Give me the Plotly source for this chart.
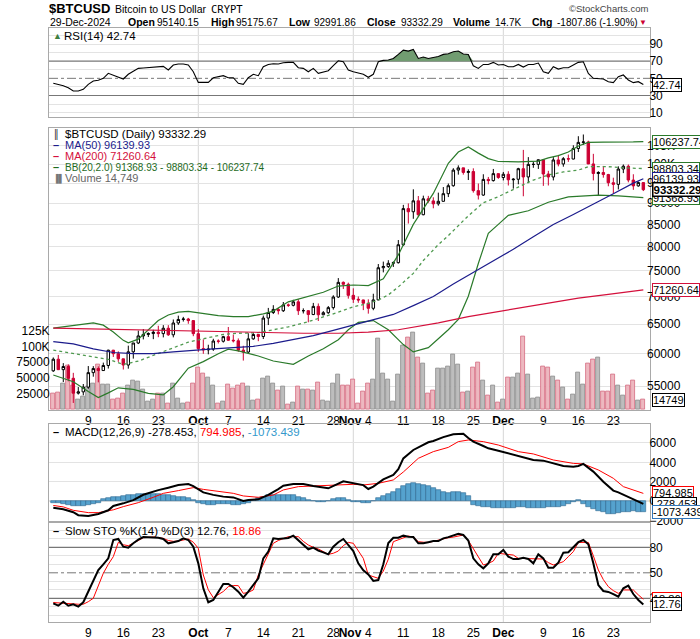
import math
import pandas as pd
import plotly.graph_objects as go

# ---------------- data ----------------
start_date = "2024-09-02"
n_days = 119
dates = pd.date_range(start_date, periods=n_days, freq="D")

opens = [57300, 59120, 57480, 57970, 56160, 53950, 54140, 54840, 57020, 57650,
         57340, 58130, 60570, 60000, 59180, 58200, 60310, 61760, 62950, 63200,
         63350, 63580, 63340, 64260, 63140, 65180, 65800, 65880, 65600, 63330,
         60830, 60630, 60750, 62090, 62050, 62820, 62220, 62130, 60580, 60270,
         62450, 63190, 62850, 66050, 67040, 67610, 67370, 68430, 68360, 69000,
         67370, 67380, 66680, 68160, 66640, 67010, 67930, 69900, 72720, 72340,
         70220, 69480, 69350, 68740, 67810, 69360, 75640, 75900, 76550, 76680,
         80470, 88700, 87950, 90580, 87250, 91070, 90560, 89850, 90460, 92340,
         94340, 98400, 98990, 97780, 98010, 93100, 91990, 95960, 95650, 97460,
         96450, 97300, 95860, 96000, 98770, 96600, 99920, 99920, 101170, 97370,
         96590, 101120, 100040, 101460, 101370, 104300, 106030, 106140, 100040, 97490,
         97760, 97220, 95100, 94690, 98680, 99430, 95790, 94300, 95140.15]
highs = [59400, 59800, 58500, 58300, 56990, 54850, 55300, 58040, 58030, 57990,
         58580, 60650, 60630, 60390, 59210, 61320, 61780, 63850, 64120, 63560,
         64000, 64700, 64800, 64800, 65800, 66480, 66260, 66080, 65700, 64130,
         62370, 61470, 62470, 62370, 62970, 64480, 63180, 62520, 61300, 63400,
         63480, 63280, 66500, 67880, 68380, 67900, 68970, 68690, 69380, 69500,
         67800, 67450, 68800, 68700, 67300, 68220, 70230, 73560, 72900, 72660,
         71560, 70000, 69400, 69470, 70520, 76400, 76900, 77200, 76930, 81500,
         89600, 89950, 93430, 91760, 91850, 91800, 91440, 92600, 94000, 94900,
         98900, 99660, 99000, 98600, 98870, 94900, 97300, 96600, 98700, 97500,
         97900, 98100, 96300, 99000, 103900, 101900, 100600, 101300, 101200, 98200,
         101900, 102500, 101900, 102600, 105200, 107800, 108300, 106500, 102800, 98100,
         99500, 97400, 96400, 99400, 99900, 99900, 97300, 95400, 95175.67]
lows = [57130, 57420, 55600, 55700, 52550, 53750, 53650, 54590, 56400, 55550,
        57330, 57650, 59480, 58700, 57500, 57630, 59210, 61580, 62360, 62760,
        62400, 62730, 62700, 62950, 62700, 64850, 65430, 65040, 62900, 60300,
        59990, 59900, 60460, 61680, 61830, 62130, 61850, 60300, 58900, 60050,
        62300, 62060, 62420, 64820, 66770, 66700, 67140, 68060, 68160, 66600,
        66870, 65300, 66570, 65530, 66550, 66800, 67570, 69730, 71430, 69600,
        68800, 68820, 67480, 66840, 67460, 69300, 74700, 75600, 75800, 76500,
        80220, 85200, 86300, 86700, 87120, 90100, 88770, 89400, 90400, 91500,
        94100, 97200, 97200, 95800, 92600, 90900, 91800, 94700, 95400, 96100,
        95700, 94400, 93600, 94700, 91700, 95000, 99000, 98700, 94300, 94400,
        95700, 99400, 99300, 100600, 101300, 103300, 105300, 100000, 95700, 91800,
        96400, 94200, 92400, 93400, 97600, 95200, 93300, 94100, 92991.86]
closes = [59120, 57480, 57970, 56160, 53950, 54140, 54840, 57020, 57650, 57340,
          58130, 60570, 60000, 59180, 58200, 60310, 61760, 62950, 63200, 63350,
          63580, 63340, 64260, 63140, 65180, 65800, 65880, 65600, 63330, 60830,
          60630, 60750, 62090, 62050, 62820, 62220, 62130, 60580, 60270, 62450,
          63190, 62850, 66050, 67040, 67610, 67370, 68430, 68360, 69000, 67370,
          67380, 66680, 68160, 66640, 67010, 67930, 69900, 72720, 72340, 70220,
          69480, 69350, 68740, 67810, 69360, 75640, 75900, 76550, 76680, 80470,
          88700, 87950, 90580, 87250, 91070, 90560, 89850, 90460, 92340, 94340,
          98400, 98990, 97780, 98010, 93100, 91990, 95960, 95650, 97460, 96450,
          97300, 95860, 96000, 98770, 96600, 99920, 99920, 101170, 97370, 96590,
          101120, 100040, 101460, 101370, 104300, 106030, 106140, 100040, 97490, 97760,
          97220, 95100, 94690, 98680, 99430, 95790, 94300, 95140.15, 93332.29]
volume_k = [24, 26, 41, 68.7, 38.3, 14.4, 19.7, 35.7, 41, 70.3,
            39.4, 39.9, 14.4, 17, 24, 38.3, 46.3, 43.7, 31.4, 11.7,
            14.4, 25, 24, 9.1, 41, 17, 9, 10.6, 41, 66,
            57, 50, 38, 9, 12, 39, 33, 37, 40, 36,
            14, 15, 49, 52, 40, 29, 36, 6.4, 10.6, 36,
            31, 31, 29, 42.6, 12.8, 12, 40, 55, 37, 38,
            47, 9, 28, 41, 47, 113, 57, 47, 12, 55,
            102, 114, 122, 82, 72, 25, 30.3, 63.9, 63.9, 67.6,
            87.3, 71.3, 26.6, 27.7, 66.5, 74.5, 46.3, 21.3, 38.3, 10.1,
            15.4, 50.6, 50.6, 57, 115.5, 55.4, 16.5, 17.6, 67.6, 66.5,
            51.6, 46.3, 34.6, 15.4, 23.4, 58.6, 39.4, 72.9, 78.3, 82.5,
            27.7, 27.7, 55.4, 38.3, 20.8, 37.3, 46.3, 12.8, 14.749]

ma50_days = [0, 4, 8, 12, 16, 20, 24, 28, 32, 36, 40, 44, 48, 52, 56, 60, 64, 68,
             72, 76, 80, 84, 88, 92, 96, 100, 104, 108, 112, 116, 118]
ma50_vals = [62000, 61600, 60800, 60200, 60000, 60000, 60300, 60600, 60800, 61000,
             61200, 61700, 62300, 63000, 63900, 64800, 65700, 66700, 68300, 70000,
             72400, 74700, 77000, 79500, 82200, 85000, 87300, 89700, 92300, 95000, 96139.93]
ma200_days = [0, 10, 20, 30, 40, 50, 57, 63, 69, 77, 83, 89, 97, 105, 111, 118]
ma200_vals = [64300, 64100, 63900, 63800, 63600, 63400, 63400, 63600, 64000, 65200,
              66300, 67200, 68400, 69700, 70400, 71260.64]
bbu_days = [0, 4, 8, 10, 12, 14, 15, 17, 19, 21, 23, 25, 27, 30, 33, 36, 39, 42, 44,
            47, 51, 54, 57, 60, 63, 64, 66, 69, 72, 76, 79, 81, 83, 85, 87, 89, 93,
            97, 99, 101, 103, 105, 107, 110, 114, 116, 118]
bbu_vals = [64300, 64700, 65200, 64800, 63600, 62200, 61800, 62400, 64000, 65600,
            66600, 67100, 67250, 66900, 66500, 66300, 66300, 66800, 67300, 69000,
            70000, 70800, 72000, 72200, 72100, 72500, 73400, 78300, 85000, 92400,
            100200, 103300, 104700, 103000, 101500, 100700, 100600, 100800, 101700,
            102300, 103300, 105000, 106000, 106100, 106050, 106150, 106237.74]
bbm_days = [0, 4, 8, 11, 14, 17, 20, 24, 27, 31, 34, 37, 41, 44, 47, 51, 54, 57, 60,
            63, 65, 67, 69, 72, 74, 77, 79, 81, 83, 86, 89, 93, 96, 99, 102, 105, 107,
            111, 114, 118]
bbm_vals = [60570, 60080, 59500, 59100, 58300, 58820, 59700, 60900, 61900, 62650,
            63200, 63400, 63500, 64000, 64500, 65420, 66200, 67100, 68100, 68700,
            69330, 70300, 71830, 74500, 77120, 80500, 82480, 84800, 87000, 90100,
            91600, 94000, 95800, 97100, 97900, 98400, 99300, 99300, 99000, 98803.34]
bbl_days = [0, 4, 7, 9, 11, 13, 16, 19, 22, 24, 27, 30, 33, 35, 37, 41, 44, 48, 51,
            54, 57, 59, 61, 64, 67, 70, 72, 75, 77, 79, 81, 83, 85, 87, 89, 91, 95,
            99, 103, 105, 109, 113, 116, 118]
bbl_vals = [56650, 55640, 54200, 53330, 54000, 54740, 54500, 53930, 53700, 54900,
            57700, 58740, 60000, 60730, 60460, 59640, 58830, 58300, 59640, 60800,
            62300, 64000, 65300, 65600, 64000, 61500, 60300, 61000, 62470, 64000,
            65830, 70050, 76500, 83000, 85000, 87100, 88200, 90230, 91560, 91700,
            92000, 91800, 91600, 91368.93]

rsi = [44.2, 43.0, 41.4, 39.0, 35.2, 35.2, 37.2, 43.0, 46.9, 47.7,
       50.0, 55.8, 53.9, 51.9, 49.2, 54.7, 57.7, 61.6, 62.0, 62.4,
       62.8, 62.8, 63.9, 59.7, 65.5, 66.7, 66.7, 65.5, 57.7, 45.3,
       45.3, 45.3, 50.7, 51.9, 53.1, 50.7, 50.7, 44.2, 43.0, 50.7,
       54.7, 53.1, 63.5, 66.2, 67.0, 66.7, 68.2, 68.6, 68.6, 62.4,
       61.6, 57.7, 61.6, 55.8, 57.0, 58.9, 64.7, 70.5, 69.3, 59.7,
       57.7, 56.5, 54.7, 51.2, 54.7, 69.3, 70.9, 71.3, 73.2, 77.9,
       82.9, 81.8, 83.7, 73.2, 74.8, 73.2, 74.0, 75.5, 77.9, 78.6,
       81.0, 81.8, 78.3, 77.9, 64.7, 61.6, 66.2, 66.2, 68.6, 65.5,
       66.2, 63.5, 63.5, 66.2, 63.1, 66.2, 66.2, 67.8, 57.7, 55.8,
       63.5, 60.8, 62.4, 62.4, 65.5, 68.6, 69.3, 55.8, 50.0, 50.0,
       49.2, 46.1, 45.0, 51.9, 53.9, 48.1, 45.0, 46.1, 42.74]

macd_days = [0, 2, 4, 5, 7, 9, 11, 12, 14, 16, 18, 20, 21, 23, 25, 27, 28, 30, 32, 34,
             36, 38, 39, 41, 43, 45, 46, 48, 50, 52, 54, 55, 58, 60, 62, 63, 64, 66,
             68, 69, 70, 72, 74, 75, 76, 78, 80, 82, 83, 84, 86, 87, 89, 91, 93, 95,
             96, 98, 100, 102, 104, 105, 106, 108, 110, 112, 113, 115, 117, 118]
macd_vals = [-680, -850, -1150, -1450, -1540, -1330, -950, -500, -230, 100, 650, 980,
             1130, 1380, 1650, 1760, 1550, 900, 640, 460, 380, 20, 110, 180, 650, 1230,
             1590, 1760, 1760, 1550, 1380, 1320, 2040, 1830, 1650, 1250, 1490, 2240,
             2700, 3280, 4400, 5270, 5780, 6060, 6200, 6600, 6900, 6950, 6500, 6130,
             5680, 5440, 5200, 4930, 4650, 4410, 4240, 4170, 3890, 3620, 3550, 3620,
             3830, 3040, 2000, 1080, 900, 460, 10, -278.453]
signal_days = [0, 2, 4, 7, 9, 12, 14, 17, 20, 22, 25, 28, 30, 33, 36, 38, 41, 44, 46,
               49, 52, 54, 57, 60, 62, 65, 68, 70, 73, 76, 79, 81, 83, 86, 89, 93, 96,
               100, 104, 106, 109, 112, 114, 118]
signal_vals = [-450, -600, -950, -1190, -1190, -900, -570, -160, 390, 800, 1080, 1390,
               1210, 970, 800, 530, 390, 630, 1150, 1490, 1560, 1560, 1660, 1730, 1660,
               1830, 2180, 3000, 4410, 5100, 5540, 6130, 6300, 6130, 5780, 5100, 4860,
               4240, 3890, 3830, 3210, 2350, 1490, 794.985]
macd_hist = [-200, -230, -320, -420, -520, -540, -500, -420, -300, -150,
             180, 300, 400, 420, 530, 600, 650, 720, 740, 730,
             720, 700, 650, 600, 530, 460, 390, 280, 100, -150,
             -300, -420, -380, -300, -300, -350, -400, -380, -300, -170,
             100, 300, 450, 600, 640, 630, 630, 620, 600, 450,
             300, 150, 0, -70, -70, 0, 250, 340, 320, 150,
             -50, -100, -160, -240, 60, 350, 560, 720, 950, 1250,
             1600, 1800, 1820, 1750, 1680, 1550, 1350, 1130, 970, 880,
             900, 920, 800, 520, -400, -480, -560, -600, -680, -740,
             -760, -720, -680, -640, -640, -700, -760, -730, -680, -640,
             -600, -560, -500, -300, -70, 100, -300, -600, -850, -1000,
             -1150, -1280, -1330, -1250, -1150, -1100, -1050, -1080, -1073.439]

sto_k = [14.1, 11.3, 16.0, 11.3, 12.9, 10.2, 15.3, 27.8, 41.5, 53.3,
         60.0, 67.0, 88.6, 89.8, 80.7, 79.6, 84.7, 89.0, 92.1, 92.1,
         92.1, 91.3, 89.8, 84.7, 86.0, 87.4, 90.5, 88.6, 80.7, 61.1,
         31.7, 15.3, 18.0, 27.8, 36.8, 36.8, 33.0, 27.8, 20.7, 27.8,
         36.0, 43.5, 67.0, 74.9, 90.5, 89.8, 90.5, 91.0, 93.7, 88.6,
         83.0, 77.6, 79.6, 76.0, 74.1, 71.7, 80.7, 86.0, 89.8, 82.0,
         75.6, 61.1, 53.0, 48.0, 40.4, 41.5, 60.0, 85.0, 91.3, 91.3,
         93.7, 92.5, 92.1, 84.7, 84.7, 86.0, 87.4, 87.4, 90.5, 92.0,
         94.0, 96.0, 94.5, 88.0, 67.0, 60.0, 55.3, 61.1, 71.7, 71.7,
         76.8, 69.0, 66.2, 66.2, 67.8, 66.2, 61.1, 71.7, 67.0, 56.0,
         56.0, 62.0, 73.7, 74.1, 80.0, 86.0, 88.6, 83.5, 61.1, 35.6,
         28.6, 27.5, 25.0, 21.9, 31.7, 34.9, 25.0, 18.0, 12.76]
sto_d = [15.0, 14.5, 14.0, 13.5, 13.0, 13.0, 13.0, 16.0, 20.0, 35.6,
         49.4, 60.0, 69.0, 85.8, 83.0, 81.9, 84.7, 88.0, 91.3, 92.0,
         92.1, 91.5, 90.5, 88.0, 87.0, 87.4, 88.5, 89.8, 86.0, 78.8,
         47.4, 30.0, 20.7, 23.9, 28.0, 33.7, 35.0, 34.9, 25.8, 27.0,
         29.8, 47.4, 60.0, 72.0, 84.7, 88.0, 89.8, 92.5, 92.5, 92.5,
         87.0, 82.7, 80.0, 78.0, 75.0, 71.7, 73.0, 75.6, 82.0, 85.8,
         84.7, 76.0, 67.0, 47.4, 45.0, 43.5, 52.0, 66.0, 86.6, 89.0,
         91.3, 93.3, 92.0, 86.6, 86.0, 85.8, 87.0, 88.6, 90.0, 91.3,
         92.0, 93.5, 94.5, 88.0, 78.8, 68.0, 59.2, 61.0, 63.9, 72.9,
         72.0, 71.5, 70.9, 67.0, 67.0, 67.0, 67.0, 66.5, 66.2, 62.0,
         59.2, 61.0, 63.1, 69.0, 74.9, 85.8, 86.0, 85.8, 70.0, 53.3,
         42.0, 33.7, 29.0, 25.8, 29.8, 30.0, 29.8, 24.0, 18.86]

price_ticks = [55000, 60000, 65000, 70000, 75000, 80000, 85000, 90000, 95000, 100000, 105000]
price_labels = ["55000", "60000", "65000", "70000", "75000", "80000", "85000", "90000", "95000", "100K", "105K"]
vol_ticks = [25000, 50000, 75000, 100000, 125000]
vol_labels = ["25000", "50000", "75000", "100K", "125K"]
date_tick_vals = ["2024-09-09", "2024-09-16", "2024-09-23", "2024-10-01", "2024-10-07",
                  "2024-10-14", "2024-10-21", "2024-10-28", "2024-11-01", "2024-11-04",
                  "2024-11-11", "2024-11-18", "2024-11-25", "2024-12-01", "2024-12-09",
                  "2024-12-16", "2024-12-23"]
date_tick_text = ["9", "16", "23", "<b>Oct</b>", "7", "14", "21", "28", "<b>Nov</b>\u00a0\u00a0", "4",
                  "11", "18", "25", "<b>Dec</b>", "9", "16", "23"]
month_lines = ["2024-10-01", "2024-11-01", "2024-12-01"]

# ---------------- geometry helpers ----------------
W, H = 700, 639
L, R = 49, 650


def xp(px):
    return (px - L) / (R - L)


def yp(py):
    return 1 - py / H


def dom(top, bottom):
    return [yp(bottom), yp(top)]


RED = "#CC0033"
NAVY = "#1C1C8C"
MA200C = "#D4103C"
GREEN = "#2A7A2A"
GRID = "#E3E3E3"
BORDER = "#A9A9A9"
FONT = "Liberation Sans, Arial, sans-serif"

x0 = pd.Timestamp(start_date) - pd.Timedelta(hours=20.6)
x1 = dates[-1] + pd.Timedelta(hours=32)


def pick(days, vals):
    return [dates[d] for d in days], vals


fig = go.Figure()

# up/down versus the previous close (first bar shows red in the picture)
candle_up = [True] + [closes[i] >= closes[i - 1] for i in range(1, n_days)]
vol_up = [False] + candle_up[1:]

# ---- volume (base axis of main panel) ----
vol = [v * 1000 for v in volume_k]
fig.add_trace(go.Bar(
    x=dates, y=vol, xaxis="x", yaxis="y",
    marker=dict(color=["#BDBDBD" if u else "#EDB8C0" for u in vol_up],
                line=dict(color=["#8C8C8C" if u else "#D46A80" for u in vol_up], width=0.8)),
    width=0.82 * 86400000, hoverinfo="skip"))

# ---- price lines ----
for days, vals, col, dash, wd in [
    (bbu_days, bbu_vals, GREEN, "solid", 1.2),
    (bbl_days, bbl_vals, GREEN, "solid", 1.2),
    (bbm_days, bbm_vals, "#4F9A4F", "dot", 1.3),
    (ma200_days, ma200_vals, MA200C, "solid", 1.2),
    (ma50_days, ma50_vals, NAVY, "solid", 1.2),
]:
    xx, yy = pick(days, vals)
    fig.add_trace(go.Scatter(x=xx, y=yy, xaxis="x", yaxis="y2", mode="lines",
                             line=dict(color=col, width=wd, dash=dash), hoverinfo="skip"))

# candles: black when up on the previous close, red when down; hollow when close > open
for flag, col in [(True, "black"), (False, RED)]:
    idx = [i for i in range(n_days) if candle_up[i] == flag]
    fig.add_trace(go.Candlestick(
        x=[dates[i] for i in idx], open=[opens[i] for i in idx], high=[highs[i] for i in idx],
        low=[lows[i] for i in idx], close=[closes[i] for i in idx], xaxis="x", yaxis="y2",
        increasing=dict(line=dict(color=col, width=1), fillcolor="white"),
        decreasing=dict(line=dict(color=col, width=1), fillcolor=col),
        whiskerwidth=0, hoverinfo="skip"))

# ---- RSI ----
fig.add_trace(go.Scatter(x=dates, y=[70] * n_days, xaxis="x2", yaxis="y3", mode="lines",
                         line=dict(width=0), hoverinfo="skip"))
fig.add_trace(go.Scatter(x=dates, y=[max(v, 70) for v in rsi], xaxis="x2", yaxis="y3",
                         mode="lines", line=dict(width=0), fill="tonexty",
                         fillcolor="#719C71", hoverinfo="skip"))
fig.add_trace(go.Scatter(x=dates, y=rsi, xaxis="x2", yaxis="y3", mode="lines",
                         line=dict(color="black", width=1.1), hoverinfo="skip"))

# ---- MACD ----
fig.add_trace(go.Bar(x=dates, y=macd_hist, xaxis="x3", yaxis="y4",
                     marker=dict(color="#55A2CE", line=dict(color="#2B668F", width=0.6)),
                     width=0.9 * 86400000, hoverinfo="skip"))
xx, yy = pick(signal_days, signal_vals)
fig.add_trace(go.Scatter(x=xx, y=yy, xaxis="x3", yaxis="y4", mode="lines",
                         line=dict(color="#FF0000", width=1), hoverinfo="skip"))
xx, yy = pick(macd_days, macd_vals)
fig.add_trace(go.Scatter(x=xx, y=yy, xaxis="x3", yaxis="y4", mode="lines",
                         line=dict(color="black", width=2), hoverinfo="skip"))

# ---- STO ----
fig.add_trace(go.Scatter(x=dates, y=sto_d, xaxis="x4", yaxis="y5", mode="lines",
                         line=dict(color="#FF0000", width=1), hoverinfo="skip"))
fig.add_trace(go.Scatter(x=dates, y=sto_k, xaxis="x4", yaxis="y5", mode="lines",
                         line=dict(color="black", width=2), hoverinfo="skip"))

# ---------------- axes ----------------
RSI_D = dom(28, 117)
MAIN_D = dom(127.5, 410)
MACD_D = dom(424, 521)
STO_D = dom(523, 622)

TICKF = dict(family=FONT, size=12, color="black")
xcommon = dict(type="date", range=[x0, x1], showgrid=False, zeroline=False,
               showline=True, mirror=True, linecolor=BORDER, linewidth=1,
               tickvals=date_tick_vals, ticktext=date_tick_text, ticks="", tickangle=0,
               tickfont=TICKF, fixedrange=True)
ycommon = dict(zeroline=False, ticks="", tickfont=TICKF, ticklabelstandoff=-4)

layout = dict(
    width=W, height=H, margin=dict(l=L, r=W - R, t=0, b=0, autoexpand=False),
    paper_bgcolor="white", plot_bgcolor="white", showlegend=False,
    barmode="overlay", bargap=0,
    xaxis=dict(xcommon, domain=[0, 1], anchor="y", rangeslider=dict(visible=False)),
    xaxis2=dict(xcommon, domain=[0, 1], anchor="y3", showticklabels=False),
    xaxis3=dict(xcommon, domain=[0, 1], anchor="y4", showticklabels=False),
    xaxis4=dict(xcommon, domain=[0, 1], anchor="y5"),
    yaxis=dict(ycommon, domain=MAIN_D, anchor="x", side="left", range=[-1600, 449600],
               tickvals=vol_ticks, ticktext=vol_labels, showgrid=False,
               showline=True, mirror=True, linecolor=BORDER),
    yaxis2=dict(ycommon, overlaying="y", anchor="x", side="right", type="log",
                range=[math.log10(51560), math.log10(110360)],
                tickvals=price_ticks, ticktext=price_labels, showgrid=True, gridcolor=GRID),
    yaxis3=dict(ycommon, domain=RSI_D, anchor="x2", side="right", range=[4.9, 108.7],
                tickvals=[10, 30, 50, 70, 90], showgrid=False,
                showline=True, mirror=True, linecolor=BORDER,
                minor=dict(tickvals=[10, 20, 40, 60, 80, 90, 100], showgrid=True, gridcolor=GRID)),
    yaxis4=dict(ycommon, domain=MACD_D, anchor="x3", side="right", range=[-2052, 7948],
                tickvals=[-2000, 0, 2000, 4000, 6000], showgrid=True, gridcolor=GRID,
                showline=True, mirror=True, linecolor=BORDER),
    yaxis5=dict(ycommon, domain=STO_D, anchor="x4", side="right", range=[-7.9, 108.6],
                tickvals=[20, 50, 80], showgrid=False,
                showline=True, mirror=True, linecolor=BORDER,
                minor=dict(tickvals=[0, 10, 30, 40, 60, 70, 90, 100], showgrid=True, gridcolor=GRID)),
)
fig.update_layout(**layout)

# ---------------- shapes ----------------
shapes = []
for ref in [("x", "y domain"), ("x2", "y3 domain"), ("x3", "y4 domain"), ("x4", "y5 domain")]:
    for m in month_lines:
        shapes.append(dict(type="line", xref=ref[0], yref=ref[1], x0=m, x1=m, y0=0, y1=1,
                           line=dict(color="#D6D6D6", width=1), layer="below"))
for yref, lv in [("y3", 70), ("y3", 30), ("y5", 80), ("y5", 20)]:
    shapes.append(dict(type="line", xref="paper", yref=yref, x0=0, x1=1, y0=lv, y1=lv,
                       line=dict(color="#777777", width=1.2), layer="below"))
for yref in ["y3", "y5"]:
    shapes.append(dict(type="line", xref="paper", yref=yref, x0=0, x1=1, y0=50, y1=50,
                       line=dict(color="#777777", width=1, dash="dashdot"), layer="below"))
shapes.append(dict(type="line", xref="paper", yref="y4", x0=0, x1=1, y0=0, y1=0,
                   line=dict(color="#BBBBBB", width=1), layer="below"))
fig.update_layout(shapes=shapes)

# ---------------- annotations ----------------
ann = []


def text(px, py, s, size=11, color="black", family=FONT, anchor="left"):
    ann.append(dict(xref="paper", yref="paper", x=xp(px), y=yp(py), text=s, showarrow=False,
                    xanchor=anchor, yanchor="middle",
                    font=dict(family=family, size=size, color=color)))


def tag(yref, yval, s, color, bold=False):
    ann.append(dict(xref="paper", yref=yref, x=xp(652), y=yval,
                    text=("<b>%s</b>" % s) if bold else s, showarrow=False,
                    xanchor="left", yanchor="middle", bgcolor="white", bordercolor=color,
                    borderwidth=1.5 if bold else 1, borderpad=0,
                    font=dict(family=FONT, size=11.5 if bold else 11, color="black")))


# header
text(47, 9, "<b>$BTCUSD</b>", size=13)
text(113, 9, "Bitcoin to US Dollar", size=10.5)
text(209, 9, "CRYPT", size=10.5, family="DejaVu Sans Mono")
text(650, 9, "\u00a9StockCharts.com", size=9.5, color="#444444", anchor="right")
text(48, 22, "29-Dec-2024", size=10.5)
for px, lab, gap, val in [(126, "Open", 29, "95140.15"), (209, "High", 25, "95175.67"),
                          (287, "Low", 25, "92991.86"), (365, "Close", 34, "93332.29"),
                          (451, "Volume", 42, "14.7K"), (530, "Chg", 25, "-1807.86 (-1.90%)")]:
    text(px, 22, "<b>%s</b>" % lab, size=10.5)
    text(px + gap, 22, val, size=10)
text(637, 23, "\u25bc", size=8, color=RED)

# panel legends
text(51, 36, "\u25b2", size=9, color="#3F7F3F")
text(62, 36, "RSI(14) 42.74", size=11.5)
text(51, 134, "\u2551", size=9, color="black")
text(63, 134, "$BTCUSD (Daily) 93332.29", size=11.5)
for py, col, s, sz in [(145, NAVY, "MA(50) 96139.93", 11), (156, MA200C, "MA(200) 71260.64", 11),
                       (167, "#1E6B1E", "BB(20,2.0) 91368.93 - 98803.34 - 106237.74", 10)]:
    text(51, py, "<b>\u2013</b>", size=11, color=col)
    text(63, py, s, size=sz, color=col)
text(51, 178, "\u2590\u258c", size=8, color="#777777")
text(63, 178, "Volume 14,749", size=11, color="#666666")
text(51, 432, "<b>\u2013</b>", size=11)
text(63, 432, "MACD(12,26,9) -278.453, <span style='color:#FF0000'>794.985</span>, "
     "<span style='color:#3399CC'>-1073.439</span>", size=11.5)
text(51, 531, "<b>\u2013</b>", size=11)
text(63, 531, "Slow STO %K(14) %D(3) 12.76, <span style='color:#FF0000'>18.86</span>", size=11.5)

# right-side value tags
tag("y2", math.log10(106237.74), "106237.74", GREEN)
tag("y2", math.log10(98803.34), "98803.34", GREEN)
tag("y2", math.log10(96139.93), "96139.93", NAVY)
tag("y2", math.log10(91368.93), "91368.93", GREEN)
tag("y2", math.log10(93332.29), "93332.29", "black", bold=True)
tag("y2", math.log10(71260.64), "71260.64", MA200C)
tag("y", 14749, "14749", "black")
tag("y3", 42.74, "42.74", "black")
tag("y4", 794.985, "794.985", "#FF0000")
tag("y4", -278.453, "-278.453", "black")
tag("y4", -1073.439, "-1073.439", "#3377BB")
tag("y5", 18.86, "18.86", "#FF0000")
tag("y5", 12.76, "12.76", "black")

fig.update_layout(annotations=ann)
fig.write_html("out.html", config={"displayModeBar": False},
               post_script="document.body.style.margin='0';document.body.style.overflow='hidden';")
